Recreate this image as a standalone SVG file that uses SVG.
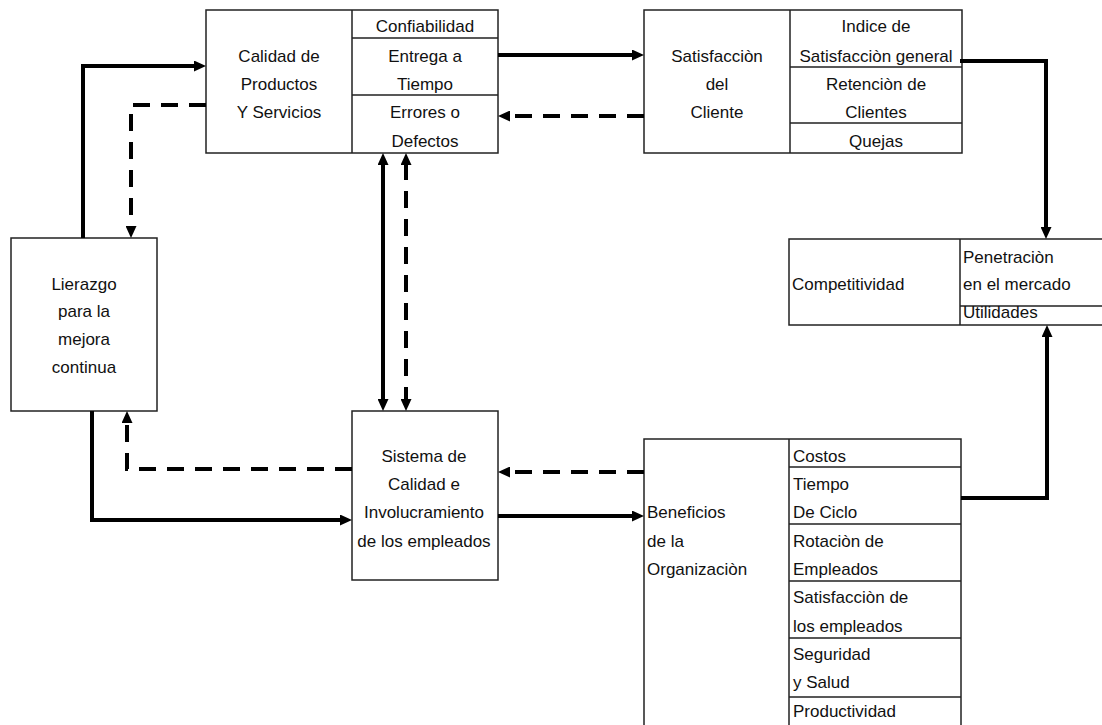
<svg xmlns="http://www.w3.org/2000/svg" width="1102" height="725" viewBox="0 0 1102 725">
  <style>
    .box { fill: #fff; stroke: #222; stroke-width: 1.5; }
    .div { stroke: #222; stroke-width: 1.5; fill: none; }
    text { font-family: "Liberation Sans", Arial, sans-serif; font-size: 17px; fill: #111; }
    .c { text-anchor: middle; }
    .solid { fill: none; stroke: #000; stroke-width: 4; }
    .dash { fill: none; stroke: #000; stroke-width: 4; stroke-dasharray: 17 11; }
  </style>
  <defs>
    <marker id="arrow" markerUnits="userSpaceOnUse" markerWidth="12" markerHeight="11" viewBox="0 0 12 11" refX="2" refY="5.5" orient="auto-start-reverse">
      <path d="M0,0 L12,5.5 L0,11 z" fill="#000"/>
    </marker>
  </defs>

  <rect width="1102" height="725" fill="#fff"/>

  <!-- Calidad de Productos y Servicios -->
  <g id="calidad">
    <rect class="box" x="206" y="10" width="292" height="143"/>
    <path class="div" d="M352,10 V153 M352,38 H498 M352,95 H498"/>
    <text class="c" x="279" y="62">Calidad de</text>
    <text class="c" x="279" y="90">Productos</text>
    <text class="c" x="279" y="118">Y Servicios</text>
    <text class="c" x="425" y="32">Confiabilidad</text>
    <text class="c" x="425" y="62">Entrega a</text>
    <text class="c" x="425" y="90">Tiempo</text>
    <text class="c" x="425" y="118">Errores o</text>
    <text class="c" x="425" y="147">Defectos</text>
  </g>

  <!-- Satisfacción del Cliente -->
  <g id="satisfaccion">
    <rect class="box" x="644" y="10" width="318" height="143"/>
    <path class="div" d="M790,10 V153 M790,67 H962 M790,123 H962"/>
    <text class="c" x="717" y="62">Satisfacciòn</text>
    <text class="c" x="717" y="90">del</text>
    <text class="c" x="717" y="118">Cliente</text>
    <text class="c" x="876" y="32">Indice de</text>
    <text class="c" x="876" y="62">Satisfacciòn general</text>
    <text class="c" x="876" y="90">Retenciòn de</text>
    <text class="c" x="876" y="118">Clientes</text>
    <text class="c" x="876" y="147">Quejas</text>
  </g>

  <!-- Competitividad -->
  <g id="competitividad">
    <rect class="box" x="789" y="239" width="320" height="86"/>
    <path class="div" d="M960,239 V325 M960,306 H1110"/>
    <text x="792" y="290">Competitividad</text>
    <text x="963" y="263">Penetraciòn</text>
    <text x="963" y="290">en el mercado</text>
    <text x="963" y="318">Utilidades</text>
  </g>

  <!-- Lierazgo para la mejora continua -->
  <g id="liderazgo">
    <rect class="box" x="11" y="238" width="146" height="173"/>
    <text class="c" x="84" y="290">Lierazgo</text>
    <text class="c" x="84" y="317">para la</text>
    <text class="c" x="84" y="345">mejora</text>
    <text class="c" x="84" y="373">continua</text>
  </g>

  <!-- Sistema de Calidad e Involucramiento -->
  <g id="sistema">
    <rect class="box" x="352" y="411" width="146" height="169"/>
    <text class="c" x="424" y="462">Sistema de</text>
    <text class="c" x="424" y="490">Calidad e</text>
    <text class="c" x="424" y="518">Involucramiento</text>
    <text class="c" x="424" y="547">de los empleados</text>
  </g>

  <!-- Beneficios de la Organización -->
  <g id="beneficios">
    <rect class="box" x="644" y="439" width="317" height="295"/>
    <path class="div" d="M789,439 V734 M789,467 H961 M789,524 H961 M789,581 H961 M789,638 H961 M789,697 H961"/>
    <text x="647" y="518">Beneficios</text>
    <text x="647" y="547">de la</text>
    <text x="647" y="575">Organizaciòn</text>
    <text x="793" y="462">Costos</text>
    <text x="793" y="490">Tiempo</text>
    <text x="793" y="518">De Ciclo</text>
    <text x="793" y="547">Rotaciòn de</text>
    <text x="793" y="575">Empleados</text>
    <text x="793" y="603">Satisfacciòn de</text>
    <text x="793" y="632">los empleados</text>
    <text x="793" y="660">Seguridad</text>
    <text x="793" y="688">y Salud</text>
    <text x="793" y="717">Productividad</text>
  </g>

  <!-- Connectors -->
  <g id="connectors">
    <path class="solid" d="M83,238 V66 H196" marker-end="url(#arrow)"/>
    <path class="dash" d="M206,105 H131 V228" marker-end="url(#arrow)"/>
    <path class="solid" d="M498,55 H634" marker-end="url(#arrow)"/>
    <path class="dash" d="M644,116 H508" marker-end="url(#arrow)"/>
    <path class="solid" d="M383,163 V401" marker-start="url(#arrow)" marker-end="url(#arrow)"/>
    <path class="dash" d="M406,163 V401" marker-start="url(#arrow)" marker-end="url(#arrow)"/>
    <path class="solid" d="M960,61 H1046 V229" marker-end="url(#arrow)"/>
    <path class="solid" d="M961,498 H1047 V335" marker-end="url(#arrow)"/>
    <path class="dash" d="M644,472 H508" marker-end="url(#arrow)"/>
    <path class="solid" d="M498,516 H634" marker-end="url(#arrow)"/>
    <path class="solid" d="M92,411 V520 H342" marker-end="url(#arrow)"/>
    <path class="dash" d="M352,469 H127 V421" marker-end="url(#arrow)"/>
  </g>
</svg>
